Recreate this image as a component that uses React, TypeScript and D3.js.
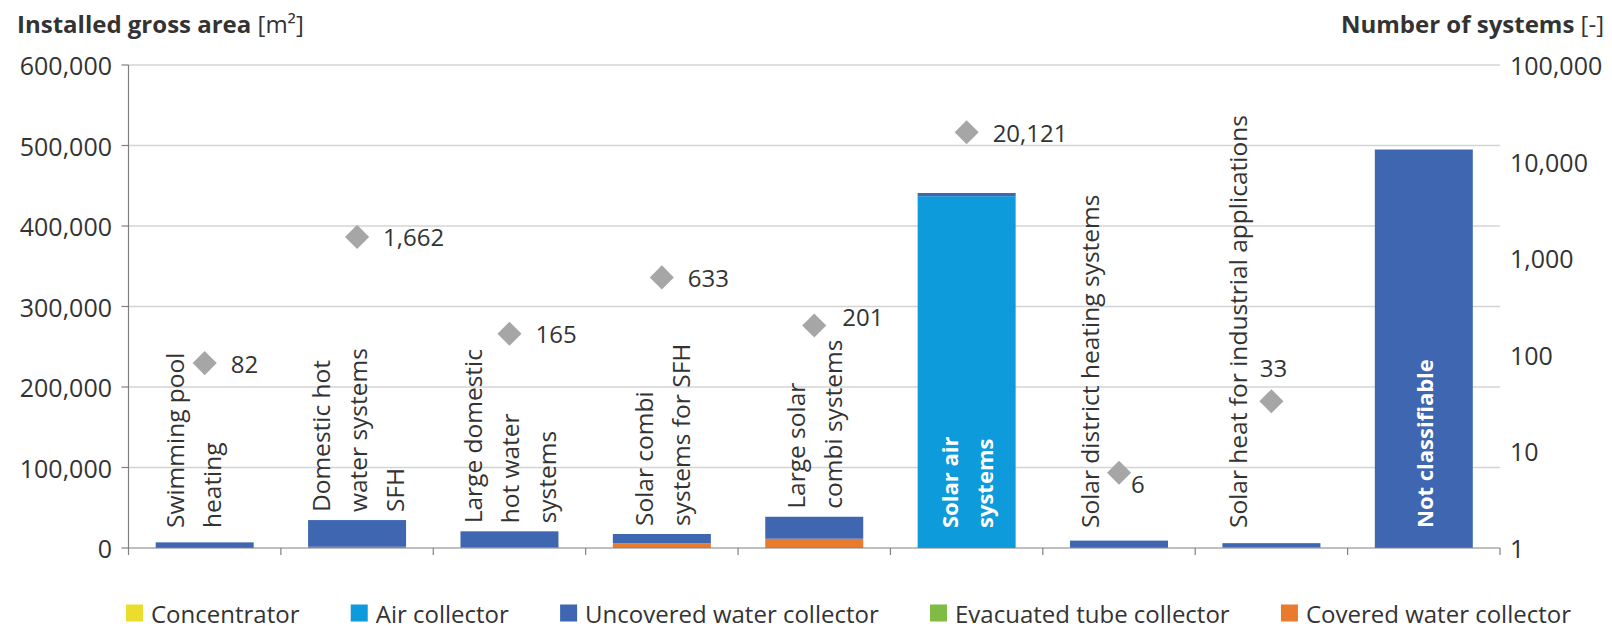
import React from "react";
import * as d3 from "d3";

// ---------- data ----------
const CATEGORIES = [
  "Swimming pool heating",
  "Domestic hot water systems SFH",
  "Large domestic hot water systems",
  "Solar combi systems for SFH",
  "Large solar combi systems",
  "Solar air systems",
  "Solar district heating systems",
  "Solar heat for industrial applications",
  "Not classifiable",
];
const CATEGORY_LINES = [
  ["Swimming pool", "heating"],
  ["Domestic hot", "water systems", "SFH"],
  ["Large domestic", "hot water", "systems"],
  ["Solar combi", "systems for SFH"],
  ["Large solar", "combi systems"],
  ["Solar air", "systems"],
  ["Solar district heating systems"],
  ["Solar heat for industrial applications"],
  ["Not classifiable"],
];
const INSIDE_LABEL = [false, false, false, false, false, true, false, false, true];

const SERIES = [
  "Concentrator",
  "Air collector",
  "Uncovered water collector",
  "Evacuated tube collector",
  "Covered water collector",
];
// installed gross area [m²]
const CONCENTRATOR = [0, 0, 0, 0, 0, 0, 0, 0, 0];
const AIR = [0, 0, 0, 0, 0, 437000, 0, 0, 0];
const UNCOVERED = [7000, 33200, 20200, 11400, 27300, 4000, 9000, 5200, 495000];
const EVACUATED = [0, 0, 0, 0, 0, 0, 0, 800, 0];
const COVERED = [0, 1500, 500, 6000, 11500, 0, 200, 0, 0];
// number of systems [-]
const SYSTEMS: (number | null)[] = [82, 1662, 165, 633, 201, 20121, 6, 33, null];

const LEFT_TICKS = [0, 100000, 200000, 300000, 400000, 500000, 600000];
const RIGHT_TICKS = [1, 10, 100, 1000, 10000, 100000];

// ---------- styles / layout ----------
const W = 1612;
const H = 628;
const PLOT = { left: 128.5, right: 1500, top: 65, bottom: 548 };
const FONT = "'Open Sans', 'Noto Sans', sans-serif";
const TEXT = "#333333";
const COLORS: Record<string, string> = {
  Concentrator: "#ebdd2c",
  "Air collector": "#0d9bdc",
  "Uncovered water collector": "#3e66b1",
  "Evacuated tube collector": "#7ebc45",
  "Covered water collector": "#e97b2f",
};
const STACK_ORDER = [
  "Covered water collector",
  "Evacuated tube collector",
  "Air collector",
  "Uncovered water collector",
  "Concentrator",
];
const LABEL_DX = [-12, 0, 0, 0, 0, 0, -30, -34, 0];
const LINE_GAP = 37;
// data-label placement per point: [dx, dy, anchor]
const POINT_LABEL: [number, number, string][] = [
  [26, 0, "start"],
  [26, 0, "start"],
  [26, 0, "start"],
  [26, 0, "start"],
  [28, -9, "start"],
  [26, 0, "start"],
  [12, 11, "start"],
  [2, -34, "middle"],
  [26, 0, "start"],
];
const LEGEND_FONT = 24;
const LEGEND_START = 126;
const LEGEND_END = 1571;
const LEGEND_BOX = 17;
const LEGEND_TEXT_GAP = 8;

function measure(text: string, size: number) {
  try {
    const c = document.createElement("canvas").getContext("2d")!;
    c.font = `${size}px 'Open Sans'`;
    return c.measureText(text).width;
  } catch (e) {
    return text.length * size * 0.55;
  }
}

export default function App() {
  const seriesValues: Record<string, number[]> = {
    Concentrator: CONCENTRATOR,
    "Air collector": AIR,
    "Uncovered water collector": UNCOVERED,
    "Evacuated tube collector": EVACUATED,
    "Covered water collector": COVERED,
  };
  const table = CATEGORIES.map((c, i) => {
    const row: any = { cat: i };
    SERIES.forEach((s) => (row[s] = seriesValues[s][i]));
    return row;
  });
  const stacked = d3.stack().keys(STACK_ORDER)(table);

  const x = d3
    .scaleBand<number>()
    .domain(d3.range(CATEGORIES.length))
    .range([PLOT.left, PLOT.right])
    .paddingInner(0.357)
    .paddingOuter(0.1785);
  const yL = d3.scaleLinear().domain([0, 600000]).range([PLOT.bottom, PLOT.top]);
  const yR = d3.scaleLog().domain([1, 100000]).range([PLOT.bottom, PLOT.top]);
  const fmt = d3.format(",");
  const step = x.step();
  const bw = x.bandwidth();
  const diamond = d3.symbol().type(d3.symbolSquare).size(290)();

  const totals = table.map((r) => STACK_ORDER.reduce((a, k) => a + r[k], 0));

  // legend positions: spread items between LEGEND_START and LEGEND_END
  const widths = SERIES.map((s) => measure(s, LEGEND_FONT));
  const used = d3.sum(widths) + SERIES.length * (LEGEND_BOX + LEGEND_TEXT_GAP);
  const gap = Math.max(12, (LEGEND_END - LEGEND_START - used) / (SERIES.length - 1));
  const legendX: number[] = [];
  let lx = LEGEND_START;
  SERIES.forEach((s, i) => {
    legendX.push(lx);
    lx += LEGEND_BOX + LEGEND_TEXT_GAP + widths[i] + gap;
  });

  return (
    <svg
      width={W}
      height={H}
      style={{ position: "absolute", left: 0, top: 0, background: "#fff" }}
      fontFamily={FONT}
    >
      <rect width={W} height={H} fill="#fff" />
      {/* titles */}
      <text x={17} y={33} fontSize={24} fill={TEXT}>
        <tspan fontWeight="bold">Installed gross area</tspan>
        <tspan> [m²]</tspan>
      </text>
      <text x={1604} y={33} fontSize={24} fill={TEXT} textAnchor="end">
        <tspan fontWeight="bold">Number of systems</tspan>
        <tspan> [-]</tspan>
      </text>

      {/* gridlines */}
      {LEFT_TICKS.filter((t) => t > 0).map((t) => (
        <line
          key={t}
          x1={PLOT.left}
          x2={PLOT.right}
          y1={yL(t)}
          y2={yL(t)}
          stroke="#d4d4d4"
          strokeWidth={1.5}
        />
      ))}

      {/* left tick labels */}
      {LEFT_TICKS.map((t) => (
        <g key={t}>
          <line x1={PLOT.left - 7} x2={PLOT.left} y1={yL(t)} y2={yL(t)} stroke="#808080" strokeWidth={1.2} />
          <text x={112} y={yL(t)} fontSize={25} fill={TEXT} textAnchor="end" dominantBaseline="central">
            {fmt(t)}
          </text>
        </g>
      ))}
      {/* right tick labels */}
      {RIGHT_TICKS.map((t) => (
        <text key={t} x={1510} y={yR(t)} fontSize={25} fill={TEXT} dominantBaseline="central">
          {fmt(t)}
        </text>
      ))}

      {/* bars */}
      {stacked.map((layer) => (
        <g key={layer.key} fill={COLORS[layer.key]}>
          {layer.map((d, i) =>
            d[1] - d[0] > 0 ? (
              <rect
                key={i}
                x={x(i)!}
                width={bw}
                y={yL(d[1])}
                height={yL(d[0]) - yL(d[1])}
              />
            ) : null
          )}
        </g>
      ))}

      {/* axes lines */}
      <line x1={PLOT.left} x2={PLOT.left} y1={PLOT.top} y2={PLOT.bottom} stroke="#808080" strokeWidth={1.2} />
      <line x1={PLOT.left} x2={PLOT.right} y1={PLOT.bottom} y2={PLOT.bottom} stroke="#808080" strokeWidth={1.2} />
      {d3.range(CATEGORIES.length + 1).map((i) => {
        const xx = PLOT.left + i * step;
        return <line key={i} x1={xx} x2={xx} y1={PLOT.bottom} y2={PLOT.bottom + 7} stroke="#808080" strokeWidth={1.2} />;
      })}

      {/* category labels */}
      {CATEGORY_LINES.map((lines, i) => {
        const cx = x(i)! + bw / 2 + LABEL_DX[i];
        const inside = INSIDE_LABEL[i];
        const y0 = inside ? 528 : Math.min(yL(totals[i]) - 8, 528);
        const g = inside ? 35 : LINE_GAP;
        return lines.map((ln, j) => {
          const tx = cx + (j - (lines.length - 1) / 2) * g;
          return (
            <text
              key={i + "-" + j}
              x={tx}
              y={y0}
              transform={`rotate(-90, ${tx}, ${y0})`}
              fontSize={inside ? 22 : 24.5}
              fontWeight={inside ? "bold" : "normal"}
              fill={inside ? "#ffffff" : TEXT}
              dominantBaseline="central"
              textAnchor="start"
            >
              {ln}
            </text>
          );
        });
      })}

      {/* diamonds + labels */}
      {SYSTEMS.map((v, i) => {
        if (v == null) return null;
        const cx = x(i)! + bw / 2;
        const cy = yR(v);
        const [dx, dy, anchor] = POINT_LABEL[i];
        return (
          <g key={i}>
            <path d={diamond!} transform={`translate(${cx},${cy}) rotate(45)`} fill="#a6a6a6" />
            <text
              x={cx + dx}
              y={cy + dy}
              fontSize={24}
              fill={TEXT}
              textAnchor={anchor as any}
              dominantBaseline="central"
            >
              {fmt(v)}
            </text>
          </g>
        );
      })}

      {/* legend */}
      {SERIES.map((s, i) => (
        <g key={s}>
          <rect x={legendX[i]} y={604.5} width={LEGEND_BOX} height={LEGEND_BOX} fill={COLORS[s]} />
          <text
            x={legendX[i] + LEGEND_BOX + LEGEND_TEXT_GAP}
            y={613}
            fontSize={LEGEND_FONT}
            fill={TEXT}
            dominantBaseline="central"
          >
            {s}
          </text>
        </g>
      ))}
    </svg>
  );
}
